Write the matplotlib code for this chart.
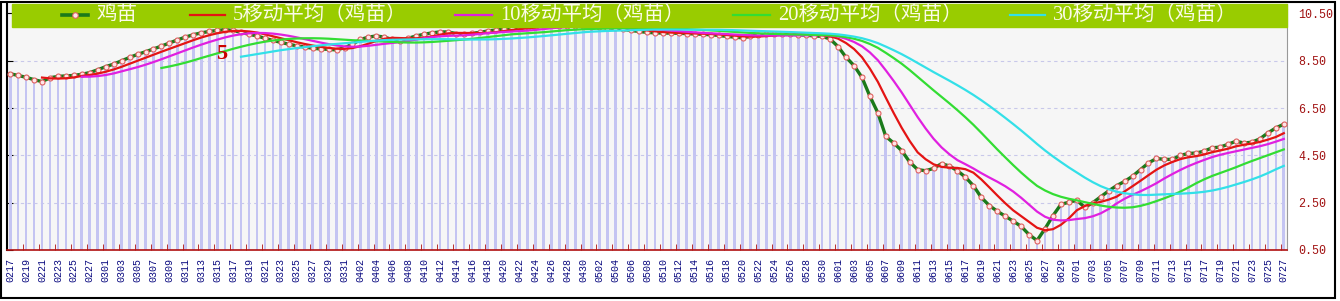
import matplotlib
matplotlib.use('Agg')
import matplotlib.pyplot as plt
from matplotlib.lines import Line2D
from matplotlib.patches import Rectangle
import numpy as np
import pandas as pd

W, H = 1340, 301

# daily dates, labels every other day
dates = pd.date_range('2023-02-17', '2023-07-27', freq='D')
day_labels = [d.strftime('%m%d') for d in dates]

series_name = '鸡苗'
price = [
    7.95, 7.88, 7.80, 7.70, 7.62, 7.78, 7.84, 7.86, 7.88, 7.93,
    8.00, 8.12, 8.25, 8.36, 8.50, 8.64, 8.77, 8.88, 9.00, 9.12,
    9.25, 9.38, 9.50, 9.60, 9.68, 9.74, 9.78, 9.82, 9.78, 9.70,
    9.62, 9.55, 9.45, 9.36, 9.28, 9.20, 9.13, 9.08, 9.03, 9.00,
    8.98, 8.96, 9.05, 9.20, 9.40, 9.50, 9.55, 9.50, 9.40, 9.35,
    9.45, 9.55, 9.62, 9.68, 9.72, 9.72, 9.65, 9.62, 9.66, 9.70,
    9.76, 9.80, 9.85, 9.88, 9.90, 9.93, 9.95, 9.98, 10.00, 9.98,
    9.97, 9.96, 9.95, 9.93, 9.92, 9.90, 9.87, 9.83, 9.78, 9.74,
    9.70, 9.68, 9.67, 9.67, 9.66, 9.65, 9.63, 9.62, 9.60, 9.57,
    9.53, 9.50, 9.47, 9.53, 9.60, 9.62, 9.62, 9.62, 9.62, 9.60,
    9.58, 9.55, 9.53, 9.42, 9.10, 8.65, 8.30, 7.80, 7.00, 6.30,
    5.30, 5.02, 4.70, 4.22, 3.90, 3.85, 3.95, 4.15, 4.05, 3.85,
    3.58, 3.22, 2.72, 2.38, 2.14, 1.93, 1.72, 1.50, 1.15, 0.90,
    1.40, 1.95, 2.43, 2.52, 2.60, 2.30, 2.50, 2.75, 3.00, 3.22,
    3.40, 3.62, 3.90, 4.18, 4.37, 4.33, 4.33, 4.50, 4.58, 4.60,
    4.68, 4.82, 4.85, 4.97, 5.10, 5.02, 5.06, 5.20, 5.45, 5.66,
    5.82,
]

ma_windows = [5, 10, 20, 30]
ma_colors = ['#e41414', '#e020e0', '#33dd33', '#33e0e8']
yticks = [0.5, 2.5, 4.5, 6.5, 8.5, 10.5]

cjk = ['Liberation Serif', 'Noto Sans CJK SC']

fig = plt.figure(figsize=(W / 100, H / 100), dpi=100)
ax = fig.add_axes([7 / W, 1 - 250 / H, 1280 / W, 246 / H])
ax.set_facecolor('#f6f6f6')

x = np.arange(len(price))
s = pd.Series(price)

ax.bar(x, s - 0.5, bottom=0.5, width=0.34, color='#c4c4f2', lw=0, zorder=1)
ax.plot(x, price, color='#1a7a1a', lw=2.4, marker='o', ms=3.6,
        mfc='#ffe6e6', mec='#e06060', mew=0.8, zorder=3)
for w, c in zip(ma_windows, ma_colors):
    ax.plot(x, s.rolling(w).mean(), color=c, lw=1.6, zorder=4)

ax.text(26.6, 8.78, '5', color='#cc0000', fontsize=16, fontweight='bold',
        family='Liberation Serif', ha='center', va='center', zorder=6)

# axes
ax.set_xlim(-0.4, 160.4)
ax.set_ylim(0.5, 10.9)
ax.set_yticks(yticks)
ax.set_yticklabels(['%.2f' % v for v in yticks], family='Liberation Mono',
                   fontsize=8.4, color='#a01010')
ax.tick_params(axis='y', left=True, right=False, labelleft=False, labelright=True,
               direction='in', length=4, color='black', pad=8)
ax.yaxis.grid(True, ls=(0, (3, 3)), color='#c8c8ea', lw=0.8)
ax.set_axisbelow(True)

ax.set_xticks(x[::2])
ax.set_xticklabels(day_labels[::2], rotation=90, family='Liberation Mono',
                   fontsize=7.2, color='#0a0a80')
ax.set_xticks(x[::2] - 0.35, minor=True)
ax.tick_params(axis='x', which='major', length=0, pad=6)
ax.tick_params(axis='x', which='minor', direction='in', length=4, color='#b01010')

ax.spines['left'].set_color('black')
ax.spines['left'].set_linewidth(1.5)
ax.spines['bottom'].set_color('#b01010')
ax.spines['bottom'].set_linewidth(1.2)
ax.spines['right'].set_color('#999999')
ax.spines['top'].set_visible(False)


def fx(p):
    return p / W


def fy(p):
    return 1 - p / H


# legend band
fig.add_artist(Rectangle((fx(12), fy(27)), (1287 - 12) / W, 23 / H,
                         transform=fig.transFigure, color='#99cc00', zorder=1))
leg_y = fy(15)
fig.add_artist(Line2D([fx(62), fx(88)], [leg_y, leg_y], transform=fig.transFigure,
                      color='#1a7a1a', lw=2.6, zorder=2))
fig.add_artist(Line2D([fx(75)], [leg_y], transform=fig.transFigure, marker='o',
                      ms=4, mfc='#ffe6e6', mec='#e06060', mew=0.8, zorder=2))
fig.text(fx(96), leg_y, series_name, color='#fbfbe6', fontsize=14.8, family=cjk,
         va='center', ha='left', zorder=3)

leg_lines = [(190, 225), (455, 492), (733, 770), (1010, 1045)]
for (a, b), w, c in zip(leg_lines, ma_windows, ma_colors):
    fig.add_artist(Line2D([fx(a), fx(b)], [leg_y, leg_y], transform=fig.transFigure,
                          color=c, lw=1.6, zorder=2))
    fig.text(fx(b + 8), leg_y, '%d移动平均（%s）' % (w, series_name), color='#fbfbe6',
             fontsize=14.8, family=cjk, va='center', ha='left', zorder=3)

# outer frame
fig.add_artist(Rectangle((fx(1), fy(298)), 1334 / W, 296 / H, transform=fig.transFigure,
                         fill=False, edgecolor='black', lw=1.5, zorder=5))

fig.savefig('out.png', dpi=100, facecolor='white')
